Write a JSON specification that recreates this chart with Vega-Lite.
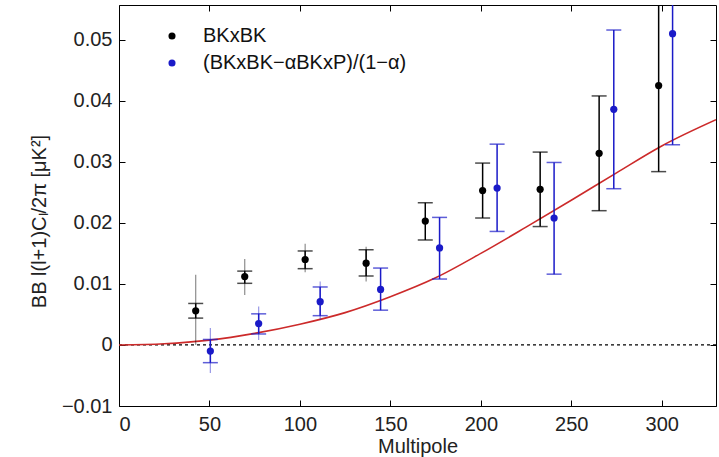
{
  "$schema": "https://vega.github.io/schema/vega-lite/v6.json",
  "width": 597,
  "height": 401,
  "autosize": {"type": "none"},
  "padding": {"left": 119, "top": 5, "right": 3, "bottom": 51},
  "background": "white",
  "config": {
    "view": {"stroke": "#000", "strokeWidth": 1},
    "font": "Liberation Sans",
    "axis": {
      "grid": false,
      "domain": false,
      "tickColor": "#000",
      "tickSize": 6,
      "offset": -6,
      "tickWidth": 1,
      "zindex": 1,
      "labelFont": "Liberation Sans",
      "labelFontSize": 20,
      "labelColor": "#222",
      "titleFont": "Liberation Sans",
      "titleFontSize": 20,
      "titleFontWeight": "normal",
      "titleColor": "#222"
    },
    "legend": {
      "orient": "none",
      "legendX": 43,
      "legendY": 21,
      "padding": 0,
      "labelFont": "Liberation Sans",
      "labelFontSize": 20,
      "labelColor": "#111",
      "labelOffset": 21,
      "labelLimit": 400,
      "rowPadding": 7,
      "symbolType": "circle",
      "symbolSize": 50,
      "symbolOpacity": 1,
      "symbolStrokeWidth": 0
    }
  },
  "datasets": {
    "bk": [
      {"series": "BKxBK", "l": 42.4, "v": 0.0056, "lo": 0.0044, "hi": 0.0068, "lo2": 0.0000, "hi2": 0.0115},
      {"series": "BKxBK", "l": 69.5, "v": 0.0112, "lo": 0.0101, "hi": 0.0121, "lo2": 0.0082, "hi2": 0.0141},
      {"series": "BKxBK", "l": 102.9, "v": 0.0140, "lo": 0.0125, "hi": 0.0154, "lo2": 0.0119, "hi2": 0.0166},
      {"series": "BKxBK", "l": 136.6, "v": 0.0134, "lo": 0.0113, "hi": 0.0156, "lo2": 0.0104, "hi2": 0.0161},
      {"series": "BKxBK", "l": 169.3, "v": 0.0203, "lo": 0.0172, "hi": 0.0233, "lo2": null, "hi2": null},
      {"series": "BKxBK", "l": 201.0, "v": 0.0253, "lo": 0.0208, "hi": 0.0298, "lo2": null, "hi2": null},
      {"series": "BKxBK", "l": 232.8, "v": 0.0255, "lo": 0.0194, "hi": 0.0316, "lo2": null, "hi2": null},
      {"series": "BKxBK", "l": 265.4, "v": 0.0314, "lo": 0.0220, "hi": 0.0408, "lo2": null, "hi2": null},
      {"series": "BKxBK", "l": 298.3, "v": 0.0425, "lo": 0.0284, "hi": 0.0600, "lo2": null, "hi2": null},
      {"series": "(BKxBK−αBKxP)/(1−α)", "l": 50.5, "v": -0.0010, "lo": -0.0029, "hi": 0.0009, "lo2": -0.0046, "hi2": 0.0028},
      {"series": "(BKxBK−αBKxP)/(1−α)", "l": 77.2, "v": 0.0035, "lo": 0.0018, "hi": 0.0051, "lo2": 0.0008, "hi2": 0.0063},
      {"series": "(BKxBK−αBKxP)/(1−α)", "l": 111.2, "v": 0.0071, "lo": 0.0048, "hi": 0.0095, "lo2": 0.0041, "hi2": 0.0104},
      {"series": "(BKxBK−αBKxP)/(1−α)", "l": 144.6, "v": 0.0091, "lo": 0.0057, "hi": 0.0126, "lo2": null, "hi2": null},
      {"series": "(BKxBK−αBKxP)/(1−α)", "l": 177.2, "v": 0.0159, "lo": 0.0108, "hi": 0.0209, "lo2": null, "hi2": null},
      {"series": "(BKxBK−αBKxP)/(1−α)", "l": 209.0, "v": 0.0257, "lo": 0.0186, "hi": 0.0329, "lo2": null, "hi2": null},
      {"series": "(BKxBK−αBKxP)/(1−α)", "l": 240.5, "v": 0.0208, "lo": 0.0116, "hi": 0.0299, "lo2": null, "hi2": null},
      {"series": "(BKxBK−αBKxP)/(1−α)", "l": 273.5, "v": 0.0386, "lo": 0.0256, "hi": 0.0516, "lo2": null, "hi2": null},
      {"series": "(BKxBK−αBKxP)/(1−α)", "l": 306.0, "v": 0.0510, "lo": 0.0328, "hi": 0.0600, "lo2": null, "hi2": null}
    ],
    "model": [
      {"l": 0, "v": 0.0},
      {"l": 25, "v": 0.0002},
      {"l": 50, "v": 0.0008},
      {"l": 75, "v": 0.0019},
      {"l": 100, "v": 0.0034},
      {"l": 125, "v": 0.0053},
      {"l": 150, "v": 0.0079},
      {"l": 175, "v": 0.0110},
      {"l": 200, "v": 0.0150},
      {"l": 225, "v": 0.0193},
      {"l": 250, "v": 0.0237},
      {"l": 275, "v": 0.0282},
      {"l": 300, "v": 0.0326},
      {"l": 330, "v": 0.0369}
    ],
    "zero": [{"l": 0, "v": 0}, {"l": 330, "v": 0}]
  },
  "layer": [
    {
      "data": {"name": "zero"},
      "mark": {"type": "line", "color": "#000", "strokeWidth": 1.2, "strokeDash": [3, 3]},
      "encoding": {
        "x": {"field": "l", "type": "quantitative", "scale": {"domain": [0, 330], "nice": false},
          "axis": {"orient": "bottom", "values": [0, 50, 100, 150, 200, 250, 300], "labelPadding": 8, "title": "Multipole", "titlePadding": 2}},
        "y": {"field": "v", "type": "quantitative", "scale": {"domain": [-0.01, 0.0557], "nice": false, "zero": false},
          "axis": {"orient": "left", "values": [-0.01, 0, 0.01, 0.02, 0.03, 0.04, 0.05], "format": ".2~f", "labelPadding": 7,
            "title": "BB l(l+1)Cₗ/2π [μK²]", "titleX": -76, "titleY": 216}}
      }
    },
    {
      "data": {"name": "model"},
      "mark": {"type": "line", "color": "#cc2a2a", "strokeWidth": 1.6, "interpolate": "monotone", "clip": true},
      "encoding": {
        "x": {"field": "l", "type": "quantitative", "axis": null},
        "y": {"field": "v", "type": "quantitative", "axis": null}
      }
    },
    {
      "data": {"name": "bk"},
      "transform": [{"filter": "isValid(datum.lo2)"}],
      "mark": {"type": "rule", "strokeWidth": 1.2, "opacity": 0.45, "clip": true},
      "encoding": {
        "x": {"field": "l", "type": "quantitative", "axis": null},
        "y": {"field": "lo2", "type": "quantitative", "axis": null},
        "y2": {"field": "hi2"},
        "color": {"field": "series", "type": "nominal"}
      }
    },
    {
      "data": {"name": "bk"},
      "mark": {"type": "rule", "strokeWidth": 1.5, "clip": true},
      "encoding": {
        "x": {"field": "l", "type": "quantitative", "axis": null},
        "y": {"field": "lo", "type": "quantitative", "axis": null},
        "y2": {"field": "hi"},
        "color": {"field": "series", "type": "nominal"}
      }
    },
    {
      "data": {"name": "bk"},
      "mark": {"type": "tick", "orient": "horizontal", "size": 15, "thickness": 1.5, "clip": true},
      "encoding": {
        "x": {"field": "l", "type": "quantitative", "axis": null},
        "y": {"field": "lo", "type": "quantitative", "axis": null},
        "color": {"field": "series", "type": "nominal"}
      }
    },
    {
      "data": {"name": "bk"},
      "mark": {"type": "tick", "orient": "horizontal", "size": 15, "thickness": 1.5, "clip": true},
      "encoding": {
        "x": {"field": "l", "type": "quantitative", "axis": null},
        "y": {"field": "hi", "type": "quantitative", "axis": null},
        "color": {"field": "series", "type": "nominal"}
      }
    },
    {
      "data": {"name": "bk"},
      "mark": {"type": "point", "filled": true, "size": 52, "opacity": 1, "clip": true},
      "encoding": {
        "x": {"field": "l", "type": "quantitative", "axis": null},
        "y": {"field": "v", "type": "quantitative", "axis": null},
        "color": {"field": "series", "type": "nominal",
          "scale": {"domain": ["BKxBK", "(BKxBK−αBKxP)/(1−α)"], "range": ["#000000", "#1a1ac8"]},
          "legend": {"title": null, "symbolType": "circle", "symbolOpacity": 1}}
      }
    },
    {
      "data": {"name": "zero"},
      "mark": {"type": "point", "opacity": 0},
      "encoding": {
        "x": {"field": "l", "type": "quantitative", "axis": {"orient": "top", "values": [0, 50, 100, 150, 200, 250, 300], "labels": false, "title": null}},
        "y": {"field": "v", "type": "quantitative", "axis": {"orient": "right", "values": [-0.01, 0, 0.01, 0.02, 0.03, 0.04, 0.05], "labels": false, "title": null}}
      }
    }
  ],
  "resolve": {"axis": {"x": "independent", "y": "independent"}}
}
